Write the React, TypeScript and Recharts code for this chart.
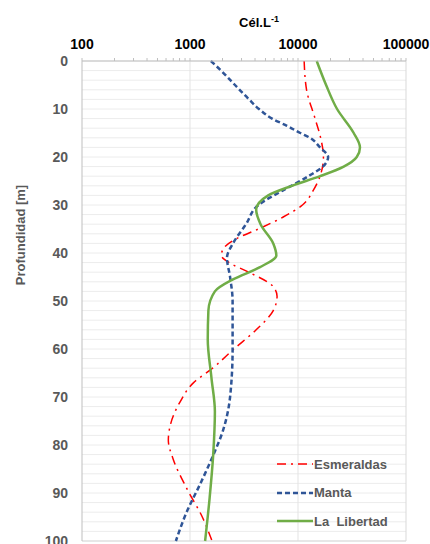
import React from 'react';
import {
  CartesianGrid,
  Label,
  Legend,
  Line,
  LineChart,
  ReferenceLine,
  XAxis,
  YAxis,
} from 'recharts';

// Cell density (Cél.L-1) axis: log scale, labelled at each decade
const CELL_TICKS = [
  100, 200, 300, 400, 500, 600, 700, 800, 900,
  1000, 2000, 3000, 4000, 5000, 6000, 7000, 8000, 9000,
  10000, 20000, 30000, 40000, 50000, 60000, 70000, 80000, 90000,
  100000,
];
const CELL_DECADES = [100, 1000, 10000, 100000];

// Depth axis (m): grid every 2 m, labels every 10 m
const DEPTH_TICKS = [
  0, 2, 4, 6, 8, 10, 12, 14, 16, 18, 20, 22, 24, 26, 28, 30, 32, 34, 36, 38, 40,
  42, 44, 46, 48, 50, 52, 54, 56, 58, 60, 62, 64, 66, 68, 70, 72, 74, 76, 78, 80,
  82, 84, 86, 88, 90, 92, 94, 96, 98, 100,
];
const DEPTH_LABELS = [0, 10, 20, 30, 40, 50, 60, 70, 80, 90, 100];

const ESMERALDAS_DEPTH = [0, 6, 12, 16, 20, 24, 27, 30, 32.5, 35, 37, 39, 40.5, 42, 44, 47, 49, 52, 56, 60, 64, 67, 71, 76, 79, 83, 89, 95, 100];
const ESMERALDAS_CELLS = [11400, 12000, 14400, 16200, 17200, 16000, 13800, 11000, 7300, 4300, 2700, 2050, 1950, 2300, 3500, 5900, 6400, 5900, 4100, 2550, 1620, 1080, 810, 655, 630, 700, 930, 1300, 1600];

const MANTA_DEPTH = [0, 2, 5, 8, 10, 12, 13.5, 15, 16, 18, 20, 22, 24, 27, 30, 34, 38, 41, 45, 50, 60, 70, 77, 82, 88, 94, 100];
const MANTA_CELLS = [1560, 1940, 2610, 3520, 4350, 5750, 7900, 10500, 12900, 16000, 19000, 17000, 12500, 7200, 4300, 3300, 2500, 2200, 2350, 2480, 2480, 2350, 2020, 1650, 1250, 930, 740];

const LIBERTAD_DEPTH = [0, 5, 10, 15, 18, 20, 22, 24, 26, 28, 31, 34, 38, 40.5, 43, 45.5, 48, 52, 58, 66, 73, 82, 91, 100];
const LIBERTAD_CELLS = [14900, 18200, 23000, 32800, 37500, 35000, 26500, 16000, 8800, 5300, 4100, 4500, 5900, 6300, 4400, 2500, 1700, 1480, 1460, 1580, 1700, 1640, 1520, 1380];

const toRows = (depth: number[], cells: number[]) =>
  depth.map((d, i) => ({ depth: d, cells: cells[i] }));

const SERIES = [
  { name: 'Esmeraldas', rows: toRows(ESMERALDAS_DEPTH, ESMERALDAS_CELLS), color: '#ff0000', width: 1.5, dash: '9 5 2 5' },
  { name: 'Manta', rows: toRows(MANTA_DEPTH, MANTA_CELLS), color: '#2f5597', width: 2.5, dash: '5 3' },
  { name: 'La  Libertad', rows: toRows(LIBERTAD_DEPTH, LIBERTAD_CELLS), color: '#70ad47', width: 2.5, dash: undefined },
];

const FONT = '"Liberation Sans", Arial, sans-serif';
const AXIS_GREY = '#bfbfbf';
const GRID_GREY = '#ececec';
const LABEL_GREY = '#595959';

function CellTick({ x, y, payload }: any) {
  const v = payload.value;
  return (
    <g>
      <line x1={x} x2={x} y1={y} y2={y - 3} stroke={AXIS_GREY} />
      {CELL_DECADES.includes(v) && (
        <text x={x} y={y - 12} textAnchor="middle" fontFamily={FONT} fontSize={14} fontWeight={700} fill="#000">
          {v}
        </text>
      )}
    </g>
  );
}

function DepthTick({ x, y, payload }: any) {
  const v = payload.value;
  if (!DEPTH_LABELS.includes(v)) return <g />;
  return (
    <text x={x - 14} y={y + 5} textAnchor="end" fontFamily={FONT} fontSize={14} fontWeight={700} fill={LABEL_GREY}>
      {v}
    </text>
  );
}

function LegendBox() {
  return (
    <div style={{ fontFamily: FONT, fontSize: 13, fontWeight: 700, color: LABEL_GREY }}>
      {SERIES.map((s) => (
        <div key={s.name} style={{ display: 'flex', alignItems: 'center', height: 28.5 }}>
          <svg width={36} height={6} style={{ marginRight: 1 }}>
            <line x1={0} x2={36} y1={3} y2={3} stroke={s.color} strokeWidth={s.width} strokeDasharray={s.dash} />
          </svg>
          <span style={{ whiteSpace: 'pre' }}>{s.name}</span>
        </div>
      ))}
    </div>
  );
}

export default function App() {
  return (
    <div style={{ position: 'absolute', left: 0, top: 0 }}>
      <LineChart
        width={430}
        height={544}
        layout="vertical"
        margin={{ top: 0, right: 24, bottom: 3, left: 0 }}
      >
        <CartesianGrid stroke={GRID_GREY} vertical={false} />
        <XAxis
          type="number"
          orientation="top"
          scale="log"
          domain={[100, 100000]}
          ticks={CELL_TICKS}
          interval={0}
          allowDataOverflow
          height={61}
          tickLine={false}
          tickSize={0}
          tickMargin={0}
          axisLine={{ stroke: AXIS_GREY }}
          tick={<CellTick />}
        >
          <Label
            content={() => (
              <text x={259} y={27} textAnchor="middle" fontFamily={FONT} fontSize={13} fontWeight={700} fill="#000">
                Cél.L<tspan dy={-5} fontSize={9}>-1</tspan>
              </text>
            )}
          />
        </XAxis>
        <YAxis
          type="number"
          dataKey="depth"
          domain={[0, 100]}
          ticks={DEPTH_TICKS}
          interval={0}
          width={82}
          tickLine={false}
          tickSize={0}
          tickMargin={0}
          axisLine={{ stroke: AXIS_GREY }}
          tick={<DepthTick />}
        >
          <Label
            content={() => (
              <text
                x={0}
                y={0}
                transform="translate(25 235) rotate(-90)"
                textAnchor="middle"
                fontFamily={FONT}
                fontSize={13}
                fontWeight={700}
                fill={LABEL_GREY}
              >
                Profundidad [m]
              </text>
            )}
          />
        </YAxis>
        <ReferenceLine x={1000} stroke="#e3e3e3" />
        <ReferenceLine x={10000} stroke="#e3e3e3" />
        <ReferenceLine x={100000} stroke="#d9d9d9" />
        <ReferenceLine y={100} stroke="#d9d9d9" />
        {SERIES.map((s) => (
          <Line
            key={s.name}
            data={s.rows}
            dataKey="cells"
            name={s.name}
            type="monotone"
            stroke={s.color}
            strokeWidth={s.width}
            strokeDasharray={s.dash}
            dot={false}
            activeDot={false}
            isAnimationActive={false}
          />
        ))}
        <Legend
          layout="vertical"
          align="center"
          verticalAlign="middle"
          content={<LegendBox />}
          wrapperStyle={{ left: 277, top: 450, width: 150 }}
        />
      </LineChart>
    </div>
  );
}
